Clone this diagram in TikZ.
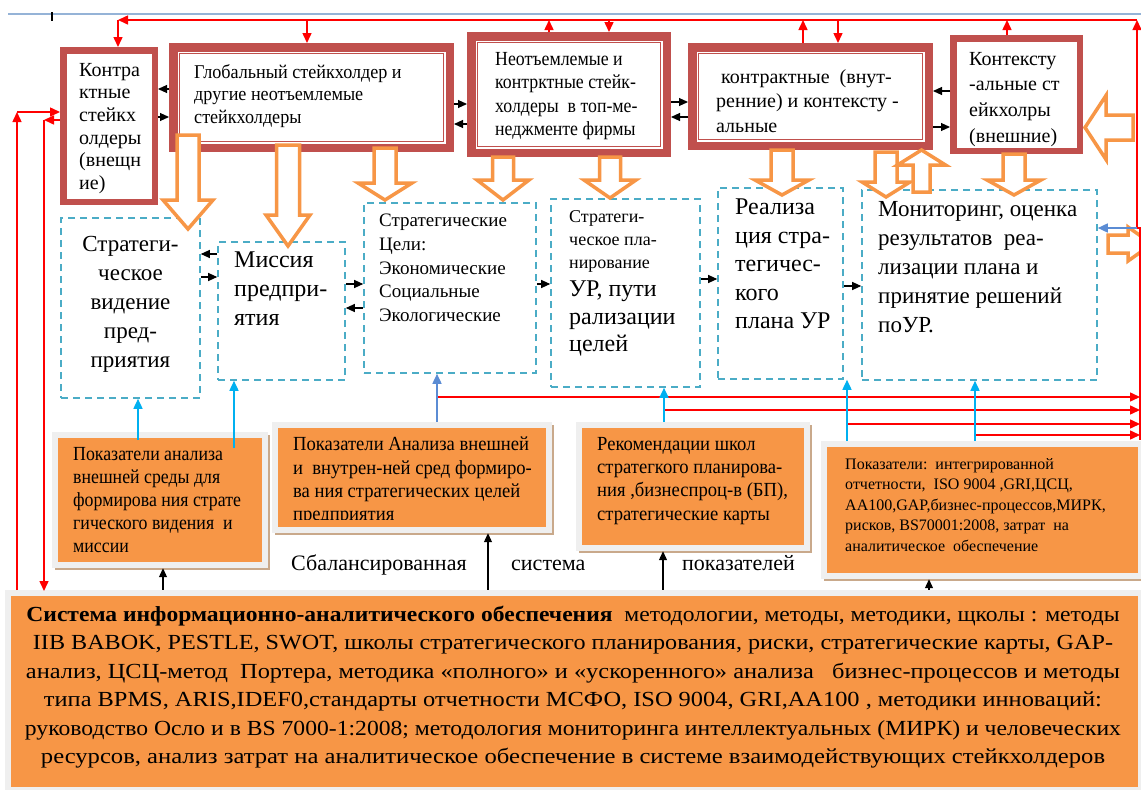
\documentclass[tikz,border=0pt]{standalone}
\usepackage{fontspec}
\setmainfont{Liberation Serif}
\newfontfamily\cnA{Liberation Serif}[FakeStretch=0.89]
\newfontfamily\cnB{Liberation Serif}[FakeStretch=0.93]
\usepackage{graphicx}
\usetikzlibrary{arrows.meta,fit,calc}
\definecolor{dkred}{HTML}{C0504D}
\definecolor{dashc}{HTML}{4BACC6}
\definecolor{orng}{HTML}{F79646}
\definecolor{skyb}{HTML}{00B0F0}
\definecolor{medb}{HTML}{5B8CD4}
\definecolor{topln}{HTML}{95B3D7}
\definecolor{shad}{HTML}{EFEFEF}
\definecolor{tanc}{HTML}{C9A98B}
\newcommand\fitw[2]{\resizebox{#1pt}{\height}{#2}}
\newcommand\fs[2]{\fontsize{#1}{#2}\selectfont}
\newcommand\obox[5]{%
  \fill[tanc] ({#2+3},{#3+3}) rectangle (#4,#5);
  \node[fill=shad, inner sep=0, fit={(#2,#3) ({#4-2},{#5-2})}] (#1) {};
  \fill[orng] ({#2+6},{#3+6}) rectangle ({#4-8},{#5-8});
}
\newcommand\darr[6]{%
  \draw[blkarr] ({#1-#5},#2) -- ({#1-#5},#3) -- ({#1-#6},#3) -- (#1,#4) -- ({#1+#6},#3) -- ({#1+#5},#3) -- ({#1+#5},#2) -- cycle;}
\newcommand\harr[6]{%
  \draw[blkarr] (#2,{#1-#5}) -- (#3,{#1-#5}) -- (#3,{#1-#6}) -- (#4,#1) -- (#3,{#1+#6}) -- (#3,{#1+#5}) -- (#2,{#1+#5}) -- cycle;}
\tikzset{
  thkA/.style={draw=dkred, line width=6.5pt, fill=white, inner sep=0},
  thkB/.style={draw=dkred, line width=8.5pt, fill=white, inner sep=0},
  dbox/.style={draw=dashc, line width=1.6pt, dash pattern=on 7pt off 5pt, inner sep=0},
  rl/.style={draw=red, line width=1.5pt},
  rarr/.style={rl, -{Triangle[length=10pt,width=9pt]}},
  barr/.style={draw=black, line width=1.1pt, -{Triangle[length=9pt,width=8pt]}},
  sarr/.style={draw=skyb, line width=1.6pt, -{Triangle[length=10pt,width=9pt]}},
  marr/.style={draw=medb, line width=1.6pt, -{Triangle[length=10pt,width=9pt]}},
  blkarr/.style={draw=orng, line width=3.5pt, fill=white, line join=miter},
  tx/.style={inner sep=0, align=left, anchor=north west},
}
\begin{document}
\begin{tikzpicture}[x=1pt,y=-1pt]
\useasboundingbox (0,0) rectangle (1141,790);
\fill[white] (0,0) rectangle (1141,790);
\begin{scope}
\clip (0,0) rectangle (1141,790);
\draw[topln, line width=1.5pt] (8,14) -- (1141,14);
\draw[black, line width=1.2pt] (52,12) -- (52,21);

% top boxes
\node[thkA, fit={(63.25,50.25) (154.75,201.75)}] (bA) {};
\node[thkB, fit={(173.25,47.25) (449.75,147.75)}] (bB) {};
\node[thkB, fit={(471.25,36.25) (666.75,152.75)}] (bC) {};
\node[thkB, fit={(692.25,47.25) (928.75,145.75)}] (bD) {};
\node[thkA, fit={(953.25,38.25) (1079.75,150.75)}] (bE) {};
\foreach \b in {bB,bC,bD}{
  \draw[dkred, line width=1.3pt] ($(\b.north west)+(10.5,10.5)$) rectangle ($(\b.south east)+(-10.5,-10.5)$);}

% middle dashed boxes
\node[dbox, fit={(61,218) (200,398)}] (m1) {};
\node[dbox, fit={(218,242) (345,380)}] (m2) {};
\node[dbox, fit={(364,203) (536,373)}] (m3) {};
\node[dbox, fit={(551,199) (700,387)}] (m4) {};
\node[dbox, fit={(718,188) (843,379)}] (m5) {};
\node[dbox, fit={(862,190) (1097,380)}] (m6) {};

% orange boxes
\obox{o1}{52}{432}{270}{570}
\obox{o2}{272}{422}{554}{535}
\obox{o3}{576}{422}{812}{553}
\obox{o4}{821}{441}{1146}{581}
\obox{big}{5}{590}{1146}{795}

% block arrows
\darr{188}{135}{200}{229}{11}{25}
\darr{288}{145}{215}{246}{11.5}{22}
\darr{385}{148}{183}{200}{11}{27}
\darr{503}{157}{180}{200}{10.5}{26}
\darr{610}{157}{180}{198}{10.5}{26}
\darr{782}{150}{180}{195}{11}{27}
\darr{886}{152}{182}{197}{11}{24}
\darr{921.5}{192}{165}{150}{8.5}{24}
\darr{1014}{154}{180}{195}{11}{27}
\harr{127.5}{1133}{1106}{1085}{12.5}{32}
\harr{244}{1108}{1128}{1152}{9}{17}

% texts
\node[tx, font=\fs{20}{22.6}] (tA) at (79,63) {Контра\\ктные\\стейкх\\олдеры\\(внещн\\ие)};
\node[tx, font=\cnB\fs{19.5}{22.5}] (tB) at (194,64) {Глобальный стейкхолдер и\\другие неотъемлемые\\стейкхолдеры};
\node[tx, font=\cnA\fs{20}{23.5}] (tC) at (495,52) {Неотъемлемые и\\контрктные стейк-\\холдеры\ \ в топ-ме-\\неджменте фирмы};
\node[tx, font=\fs{20}{24.5}] (tD) at (716,69) {\ контрактные\ \ (внут-\\ренние) и контексту -\\альные};
\node[tx, font=\fs{20}{25.7}] (tE) at (969,52) {Контексту\\-альные ст\\ейкхолры\\(внешние)};

\node[inner sep=0, align=center, anchor=north, font=\fs{23}{29}] (t1) at (130.5,236) {Стратеги-\\ческое\\видение\\пред-\\приятия};
\node[tx, font=\fs{24}{29}] (t2) at (234,252) {Миссия\\предпри-\\ятия};
\node[tx, font=\fs{19}{23.7}] (t3) at (379,214) {Стратегические\\Цели:\\Экономические\\Социальные\\Экологические};
\node[tx, font=\fs{18}{23}] (t4a) at (569,210) {Стратеги-\\ческое пла-\\нирование};
\node[tx, font=\fs{24}{27.5}] (t4b) at (569,281) {УР, пути\\рализации\\целей};
\node[tx, font=\fs{24}{28.5}] (t5) at (735,199) {Реализа\\ция стра-\\тегичес-\\кого\\плана УР};
\node[tx, font=\fs{23}{29}] (t6) at (878,201) {Мониторинг, оценка\\результатов\ \ реа-\\лизации плана и\\принятие решений\\поУР.};

\node[tx, font=\cnA\fs{20}{23}] (to1) at (73,447) {Показатели анализа\\внешней среды для\\формирова ния страте\\гического видения\ \ и\\миссии};
\begin{scope}
\clip (278,428) rectangle (546,519);
\node[tx, font=\cnB\fs{20}{23.3}] (to2) at (293,437) {Показатели Анализа внешней\\и\ \ внутрен-ней сред формиро-\\ва ния стратегических целей\\предприятия};
\end{scope}
\node[tx, font=\cnB\fs{20}{23.3}] (to3) at (597,437) {Рекомендации школ\\стратегкого планирова-\\ния ,бизнеспроц-в (БП),\\стратегические карты};
\node[tx, font=\fs{16}{20.5}] (to4) at (845,458) {Показатели:\ \ интегрированной\\отчетности,\ \ ISO 9004 ,GRI,ЦСЦ,\\АА100,GAP,бизнес-процессов,МИРК,\\рисков, BS70001:2008, затрат\ \ на\\аналитическое\ \ обеспечение};

\node[inner sep=0, anchor=base west, font=\fs{22}{26}] (bal1) at (291,570) {Сбалансированная};
\node[inner sep=0, anchor=base west, font=\fs{22}{26}] (bal2) at (511,570) {система};
\node[inner sep=0, anchor=base west, font=\fs{22}{26}] (bal3) at (682,570) {показателей};

\node[inner sep=0, anchor=north, align=center, font=\fs{21.5}{28.4}] (bigt) at (573,606) {%
\fitw{1093}{\textbf{Система информационно-аналитического обеспечения}\ \ методологии, методы, методики, щколы : методы}\\
\fitw{1080}{IIB BABOK, PESTLE, SWOT, школы стратегического планирования, риски, стратегические карты, GAP-}\\
\fitw{1094}{анализ, ЦСЦ-метод\ \ Портера, методика «полного» и «ускоренного» анализа\ \ \ бизнес-процессов и методы}\\
\fitw{1058}{типа BPMS, ARIS,IDEF0,стандарты отчетности МСФО, ISO 9004, GRI,AA100 , методики инноваций:}\\
\fitw{1096}{руководство Осло и в BS 7000-1:2008; методология мониторинга интеллектуальных (МИРК) и человеческих}\\
\fitw{1064}{ресурсов, анализ затрат на аналитическое обеспечение в системе взаимодействующих стейкхолдеров}};

% red connectors
\coordinate (tl) at (118,20);
\coordinate (tr) at (1137,20);
\draw[rarr] (tr) -- (tl);
\draw[rarr] (tl) -- (tl |- bA.north);
\draw[rarr] (307,20) -- (bB.north -| 307,0);
\draw[rarr] (bC.north -| 549,0) -- (549,20);
\draw[rarr] (609,20) -- (bC.north -| 609,0);
\draw[rarr] (bD.north -| 803,0) -- (803,20);
\draw[rarr] (838,20) -- (bD.north -| 838,0);
\draw[rarr] (bE.north -| 1007,0) -- (1007,20);
\draw[rarr] (1137,228) -- (tr);
\draw[rl] (1137,228) -- (1140,228) -- (1140,440);
\draw[marr] (1137,228) -- (m6.east |- 0,228);
\draw[rarr] (437,397) -- (1140,397);
\draw[rarr] (664,410) -- (1140,410);
\draw[rarr] (847,424) -- (1140,424);
\draw[rarr] (975,435) -- (1140,435);
\draw[rarr] (17,590) -- (17,112);
\draw[rarr] (17,112) -- (bA.west |- 0,112);
\draw[rarr] (bA.west |- 0,120) -- (44,120);
\draw[rarr] (44,120) -- (44,591);

% black connectors top
\draw[barr] (bB.west |- 0,89) -- (bA.east |- 0,89);
\draw[barr] (bA.east |- 0,117) -- (bB.west |- 0,117);
\draw[barr] (bB.east |- 0,104) -- (bC.west |- 0,104);
\draw[barr] (bC.west |- 0,124) -- (bB.east |- 0,124);
\draw[barr] (bC.east |- 0,102) -- (bD.west |- 0,102);
\draw[barr] (bD.west |- 0,117) -- (bC.east |- 0,117);
\draw[barr] (bE.west |- 0,91) -- (bD.east |- 0,91);
\draw[barr] (bD.east |- 0,127) -- (bE.west |- 0,127);
% middle
\draw[barr] (m2.west |- 0,254) -- (m1.east |- 0,254);
\draw[barr] (m1.east |- 0,277) -- (m2.west |- 0,277);
\draw[barr] (m2.east |- 0,284) -- (m3.west |- 0,284);
\draw[barr] (m3.west |- 0,308) -- (m2.east |- 0,308);
\draw[barr] (m3.east |- 0,284) -- (m4.west |- 0,284);
\draw[barr] (m4.east |- 0,279) -- (m5.west |- 0,279);
\draw[barr] (m5.east |- 0,286) -- (m6.west |- 0,286);
% blue
\draw[sarr] (138,440) -- (m1.south -| 138,0);
\draw[sarr] (234,448) -- (m2.south -| 234,0);
\draw[marr] (o2.north -| 437,0) -- (m3.south -| 437,0);
\draw[sarr] (o3.north -| 664,0) -- (m4.south -| 664,0);
\draw[sarr] (o4.north -| 847,0) -- (m5.south -| 847,0);
\draw[sarr] (o4.north -| 975,0) -- (m6.south -| 975,0);
% black up from big box
\draw[barr] (big.north -| 163,0) -- (o1.south -| 163,0);
\draw[barr] (big.north -| 488,0) -- (o2.south -| 488,0);
\draw[barr] (big.north -| 663,0) -- (o3.south -| 663,0);
\draw[barr] (big.north -| 929,0) -- (o4.south -| 929,0);
\end{scope}
\end{tikzpicture}
\end{document}
